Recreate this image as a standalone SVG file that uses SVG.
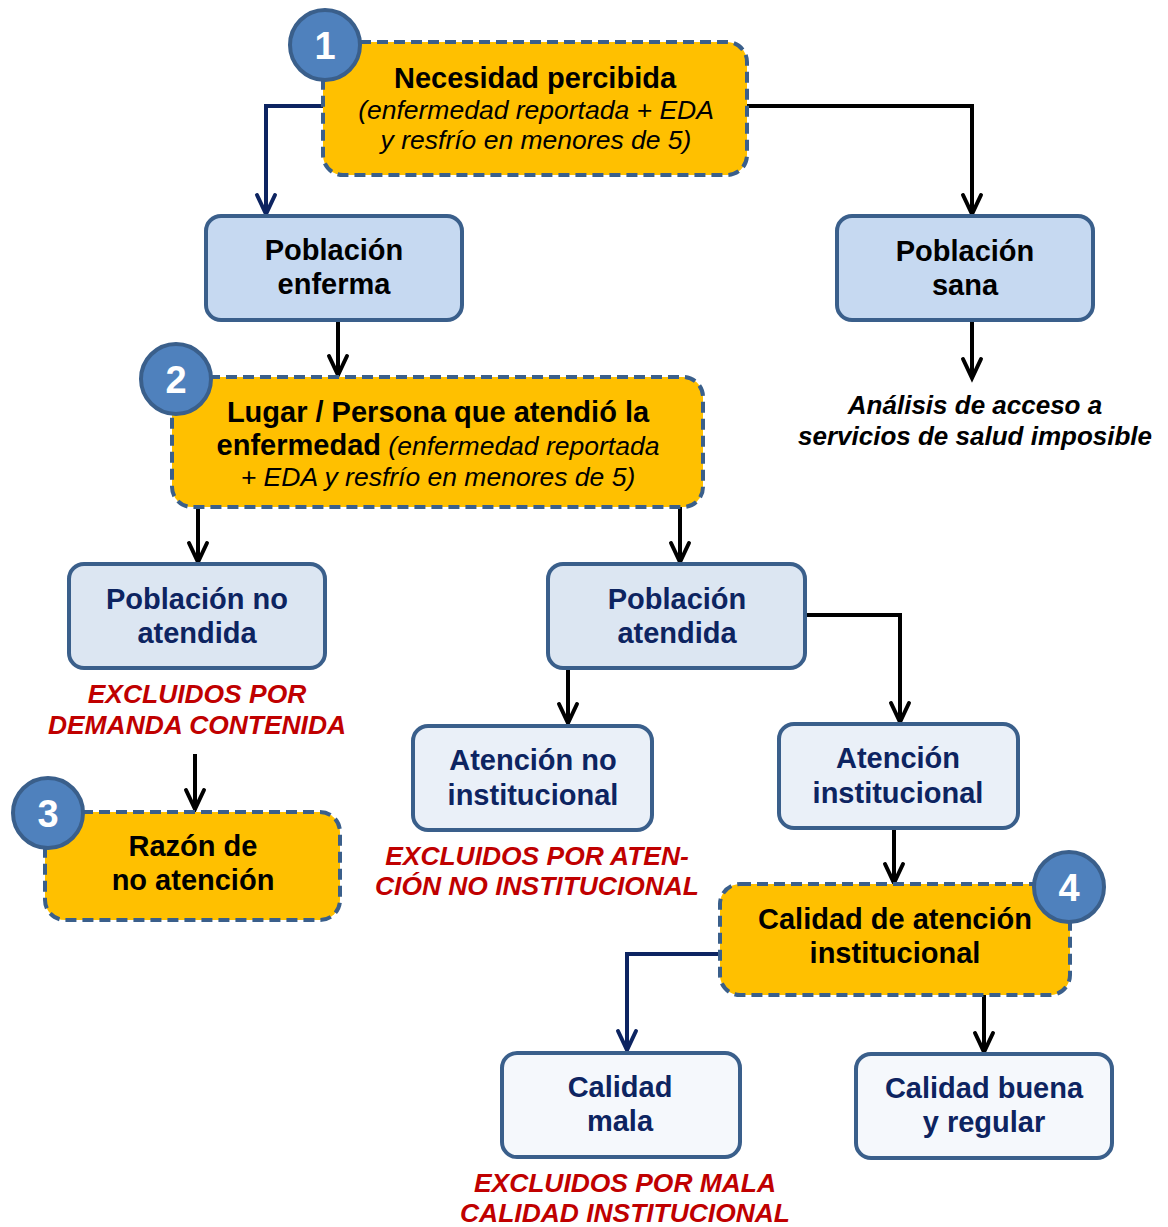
<svg xmlns="http://www.w3.org/2000/svg" width="1168" height="1227" viewBox="0 0 1168 1227">
<defs>
<style>
.gold{fill:#FFC000;stroke:#3A5F8B;stroke-width:4;stroke-dasharray:11 6}
.b1{fill:#C6D9F1;stroke:#3A5F8B;stroke-width:4}
.b2{fill:#DCE6F2;stroke:#3A5F8B;stroke-width:4}
.b3{fill:#EAF0F8;stroke:#3A5F8B;stroke-width:4}
.b4{fill:#F5F8FC;stroke:#3A5F8B;stroke-width:4}
.num{fill:#4F81BD;stroke:#3A5F8B;stroke-width:4}
.numt{font-family:"Liberation Sans",Arial,sans-serif;font-weight:bold;font-size:38px;fill:#fff;text-anchor:middle}
.t{font-family:"Liberation Sans",Arial,sans-serif;font-weight:bold;font-size:29px;text-anchor:middle;fill:#000}
.nv{fill:#0D2461}
.it{font-family:"Liberation Sans",Arial,sans-serif;font-style:italic;font-size:26.5px;text-anchor:middle;fill:#000}
.sb{font-weight:bold;font-size:29px;font-style:normal}
.si{font-weight:normal;font-size:26.5px;font-style:italic}
.red{font-family:"Liberation Sans",Arial,sans-serif;font-style:italic;font-weight:bold;font-size:26.4px;text-anchor:middle;fill:#C00000}
.an{font-family:"Liberation Sans",Arial,sans-serif;font-style:italic;font-weight:bold;font-size:26px;text-anchor:middle;fill:#000}
.cb{fill:none;stroke:#000;stroke-width:4}
.cn{fill:none;stroke:#0D2461;stroke-width:4}
</style>
</defs>
<rect width="1168" height="1227" fill="#fff"/>

<g id="connectors">
<path class="cn" d="M323,106 H266 V213"/>
<path class="cb" d="M747,106 H972 V213"/>
<path class="cb" d="M972,321 V377"/>
<path class="cb" d="M338,320 V374"/>
<path class="cb" d="M198,507 V561"/>
<path class="cb" d="M680,507 V561"/>
<path class="cb" d="M195,754 V808"/>
<path class="cb" d="M568,668 V722"/>
<path class="cb" d="M805,615 H900 V721"/>
<path class="cb" d="M894,828 V882"/>
<path class="cn" d="M720,954 H627 V1049"/>
<path class="cb" d="M984,995 V1051"/>
<g fill="none" stroke-width="4" stroke-linecap="round">
<path d="M257,195 L266,214 L275,195" stroke="#0D2461"/>
<path d="M963,195 L972,214 L981,195" stroke="#000"/>
<path d="M963,359 L972,378 L981,359" stroke="#000"/>
<path d="M329,356 L338,375 L347,356" stroke="#000"/>
<path d="M189,543 L198,562 L207,543" stroke="#000"/>
<path d="M671,543 L680,562 L689,543" stroke="#000"/>
<path d="M186,790 L195,809 L204,790" stroke="#000"/>
<path d="M559,704 L568,723 L577,704" stroke="#000"/>
<path d="M891,703 L900,722 L909,703" stroke="#000"/>
<path d="M885,864 L894,883 L903,864" stroke="#000"/>
<path d="M618,1031 L627,1050 L636,1031" stroke="#0D2461"/>
<path d="M975,1033 L984,1052 L993,1033" stroke="#000"/>
</g>
</g>

<g id="n1">
<rect class="gold" x="323" y="42" width="424" height="133" rx="20"/>
<text class="t" x="535" y="88">Necesidad percibida</text>
<text class="it" x="536" y="119">(enfermedad reportada + EDA</text>
<text class="it" x="536" y="149">y resfrío en menores de 5)</text>
<circle class="num" cx="325" cy="45" r="35"/>
<text class="numt" x="325" y="59">1</text>
</g>

<g id="n-enferma">
<rect class="b1" x="206" y="216" width="256" height="104" rx="15"/>
<text class="t" x="334" y="260">Población</text>
<text class="t" x="334" y="294">enferma</text>
</g>

<g id="n-sana">
<rect class="b1" x="837" y="216" width="256" height="104" rx="15"/>
<text class="t" x="965" y="261">Población</text>
<text class="t" x="965" y="295">sana</text>
</g>

<g id="t-analisis">
<text class="an" x="975" y="414">Análisis de acceso a</text>
<text class="an" x="975" y="445">servicios de salud imposible</text>
</g>

<g id="n2">
<rect class="gold" x="172" y="377" width="531" height="130" rx="20"/>
<text class="t" x="438" y="422">Lugar / Persona que atendió la</text>
<text class="t" x="438" y="455"><tspan class="sb">enfermedad</tspan><tspan class="si"> (enfermedad reportada</tspan></text>
<text class="it" x="438" y="486">+ EDA y resfrío en menores de 5)</text>
<circle class="num" cx="176" cy="379" r="35"/>
<text class="numt" x="176" y="393">2</text>
</g>

<g id="n-noatendida">
<rect class="b2" x="69" y="564" width="256" height="104" rx="15"/>
<text class="t nv" x="197" y="609">Población no</text>
<text class="t nv" x="197" y="643">atendida</text>
</g>
<g id="t-demanda">
<text class="red" x="197" y="703">EXCLUIDOS POR</text>
<text class="red" x="197" y="734">DEMANDA CONTENIDA</text>
</g>

<g id="n3">
<rect class="gold" x="45" y="812" width="295" height="108" rx="20"/>
<text class="t" x="193" y="856">Razón de</text>
<text class="t" x="193" y="890">no atención</text>
<circle class="num" cx="48" cy="813" r="35"/>
<text class="numt" x="48" y="827">3</text>
</g>

<g id="n-atendida">
<rect class="b2" x="548" y="564" width="257" height="104" rx="15"/>
<text class="t nv" x="677" y="609">Población</text>
<text class="t nv" x="677" y="643">atendida</text>
</g>

<g id="n-noinst">
<rect class="b3" x="413" y="726" width="239" height="104" rx="15"/>
<text class="t nv" x="533" y="770">Atención no</text>
<text class="t nv" x="533" y="805">institucional</text>
</g>
<g id="t-noinst">
<text class="red" x="537" y="865">EXCLUIDOS POR ATEN-</text>
<text class="red" x="537" y="895">CIÓN NO INSTITUCIONAL</text>
</g>

<g id="n-inst">
<rect class="b3" x="779" y="724" width="239" height="104" rx="15"/>
<text class="t nv" x="898" y="768">Atención</text>
<text class="t nv" x="898" y="803">institucional</text>
</g>

<g id="n4">
<rect class="gold" x="720" y="884" width="350" height="111" rx="20"/>
<text class="t" x="895" y="929">Calidad de atención</text>
<text class="t" x="895" y="963">institucional</text>
<circle class="num" cx="1069" cy="887" r="35"/>
<text class="numt" x="1069" y="901">4</text>
</g>

<g id="n-mala">
<rect class="b4" x="502" y="1053" width="238" height="104" rx="15"/>
<text class="t nv" x="620" y="1097">Calidad</text>
<text class="t nv" x="620" y="1131">mala</text>
</g>
<g id="t-mala">
<text class="red" x="625" y="1192">EXCLUIDOS POR MALA</text>
<text class="red" x="625" y="1222">CALIDAD INSTITUCIONAL</text>
</g>

<g id="n-buena">
<rect class="b4" x="856" y="1054" width="256" height="104" rx="15"/>
<text class="t nv" x="984" y="1098">Calidad buena</text>
<text class="t nv" x="984" y="1132">y regular</text>
</g>
</svg>
